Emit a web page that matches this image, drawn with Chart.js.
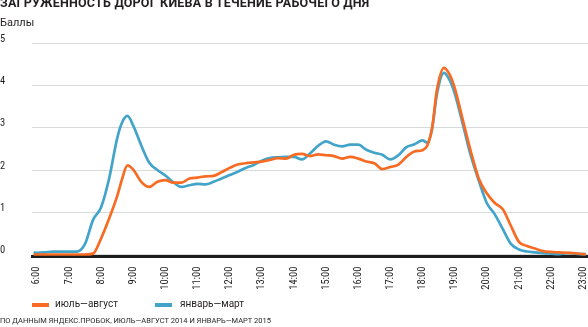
<!DOCTYPE html>
<html lang="ru">
<head>
<meta charset="utf-8">
<script src="https://cdn.jsdelivr.net/npm/chart.js@4.4.1/dist/chart.umd.min.js"></script>
<style>
    body { margin: 0; width: 588px; height: 327px; position: relative; overflow: hidden; background: #fff; font-family: Roboto, sans-serif; color: #231f20; }
    #trafficChart { position: absolute; left: 0; top: 0; }
    .title { position: absolute; left: 0; top: -3px; font-size: 12.5px; line-height: 12px; font-weight: bold; letter-spacing: 0.2px; white-space: nowrap; }
    .units { position: absolute; left: 0; top: 17px; font-size: 11px; line-height: 11px; }
    .legend-item { position: absolute; top: 298px; font-size: 10px; line-height: 12px; white-space: nowrap; }
    .swatch { position: absolute; width: 17px; height: 4px; top: 303px; }
    .source { position: absolute; left: 0; top: 316px; font-size: 7.5px; line-height: 10px; white-space: nowrap; }
</style>
</head>
<body>
<canvas id="trafficChart" width="588" height="327"></canvas>
<div class="title">ЗАГРУЖЕННОСТЬ ДОРОГ КИЕВА В ТЕЧЕНИЕ РАБОЧЕГО ДНЯ</div>
<div class="units">Баллы</div>
<div id="legend"></div>
<div class="source">ПО ДАННЫМ ЯНДЕКС.ПРОБОК, ИЮЛЬ—АВГУСТ 2014 И ЯНВАРЬ—МАРТ 2015</div>

<script>
// время суток, часы
const HOURS = [
    5.9, 6, 6.25, 6.5, 6.75, 7, 7.25, 7.5, 7.75, 8,
    8.25, 8.5, 8.65, 8.82, 9, 9.25, 9.5, 9.75, 10, 10.25,
    10.5, 10.75, 11, 11.25, 11.5, 11.75, 12, 12.25, 12.5, 12.75,
    13, 13.25, 13.5, 13.75, 14, 14.25, 14.5, 14.75, 15, 15.25,
    15.5, 15.75, 16, 16.25, 16.5, 16.75, 17, 17.25, 17.5, 17.75,
    18, 18.15, 18.3, 18.45, 18.67, 18.85, 19, 19.25, 19.5, 19.75,
    20, 20.25, 20.5, 20.75, 21, 21.25, 21.5, 21.75, 22, 22.25,
    22.5, 22.75, 23, 23.08
];

// июль—август 2014
const SUMMER = [
    0, 0, 0, 0, 0, 0, 0, 0, 0.02, 0.38,
    0.85, 1.38, 1.78, 2.11, 2.01, 1.72, 1.6, 1.72, 1.76, 1.7,
    1.7, 1.8, 1.82, 1.85, 1.86, 1.95, 2.05, 2.13, 2.16, 2.18,
    2.2, 2.24, 2.28, 2.27, 2.36, 2.38, 2.33, 2.37, 2.35, 2.33,
    2.27, 2.31, 2.27, 2.2, 2.16, 2.02, 2.07, 2.13, 2.31, 2.44,
    2.47, 2.58, 3.0, 3.9, 4.42, 4.25, 3.95, 3.2, 2.45, 1.8,
    1.45, 1.22, 1.07, 0.68, 0.3, 0.2, 0.14, 0.08, 0.06, 0.05,
    0.04, 0.03, 0.01, 0
];

// январь—март 2015
const WINTER = [
    0.05, 0.04, 0.05, 0.07, 0.07, 0.07, 0.07, 0.25, 0.82, 1.12,
    1.8, 2.75, 3.12, 3.28, 3.05, 2.58, 2.17, 2.0, 1.87, 1.71,
    1.6, 1.64, 1.67, 1.66, 1.72, 1.8, 1.88, 1.96, 2.05, 2.12,
    2.22, 2.28, 2.3, 2.31, 2.31, 2.25, 2.39, 2.57, 2.68, 2.6,
    2.56, 2.6, 2.6, 2.48, 2.41, 2.36, 2.25, 2.35, 2.54, 2.61,
    2.7, 2.65, 2.98, 3.8, 4.3, 4.12, 3.82, 3.1, 2.35, 1.75,
    1.22, 0.95, 0.6, 0.25, 0.12, 0.07, 0.05, 0.03, 0.02, 0.01,
    0.03, 0.02, 0.01, 0.01
];

const SERIES_NAMES = ['июль—август', 'январь—март'];
const SERIES_COLORS = ['#f86b23', '#42a4c9'];
const X_TICK_MIN = 6;
const X_TICK_MAX = 23;
const Y_MAX = 5;

function toPoints(values) {
    return HOURS.map((h, i) => ({ x: h, y: values[i] }));
}

// легенда
const legend = document.getElementById('legend');
const legendX = [[32, 55], [155, 180]];
SERIES_NAMES.forEach((name, i) => {
    legend.innerHTML += `
        <div class="swatch" style="left:${legendX[i][0]}px; background:${SERIES_COLORS[i]}"></div>
        <div class="legend-item" style="left:${legendX[i][1]}px">${name}</div>`;
});

const tickFont = { family: "'Liberation Sans Narrow', 'Roboto Condensed', Roboto", size: 10.5 };

new Chart(document.getElementById('trafficChart'), {
    type: 'line',
    data: {
        datasets: [
            {
                label: SERIES_NAMES[0],
                data: toPoints(SUMMER),
                borderColor: SERIES_COLORS[0],
                borderWidth: 2.7,
                pointRadius: 0,
                cubicInterpolationMode: 'monotone',
                fill: false
            },
            {
                label: SERIES_NAMES[1],
                data: toPoints(WINTER),
                borderColor: SERIES_COLORS[1],
                borderWidth: 2.7,
                pointRadius: 0,
                cubicInterpolationMode: 'monotone',
                fill: false
            }
        ]
    },
    options: {
        responsive: false,
        animation: false,
        layout: { padding: { top: 43.3, bottom: 0, left: 0, right: 0 } },
        plugins: {
            legend: { display: false },
            tooltip: { enabled: false }
        },
        scales: {
            x: {
                type: 'linear',
                min: 5.85,
                max: 23.15,
                grid: { display: false, drawTicks: false },
                border: { display: true, color: '#1d1d1b', width: 3 },
                afterFit: scale => {
                    scale.height = 70.4;
                    scale.paddingLeft = 0;
                    scale.paddingRight = 0;
                },
                ticks: {
                    stepSize: 1,
                    includeBounds: false,
                    autoSkip: false,
                    minRotation: 90,
                    maxRotation: 90,
                    padding: 10,
                    color: '#231f20',
                    font: tickFont,
                    callback: v => (v >= X_TICK_MIN && v <= X_TICK_MAX && Number.isInteger(v)) ? v + ':00' : ''
                }
            },
            y: {
                min: -0.05,
                max: Y_MAX,
                grid: { color: '#d6dadb', lineWidth: 1, drawTicks: false },
                border: { display: false },
                afterFit: scale => {
                    scale.width = 32;
                    scale.paddingTop = 0;
                    scale.paddingBottom = 0;
                },
                ticks: {
                    stepSize: 1,
                    includeBounds: false,
                    crossAlign: 'far',
                    labelOffset: -4,
                    color: '#231f20',
                    font: tickFont
                }
            }
        }
    }
});
</script>
</body>
</html>
